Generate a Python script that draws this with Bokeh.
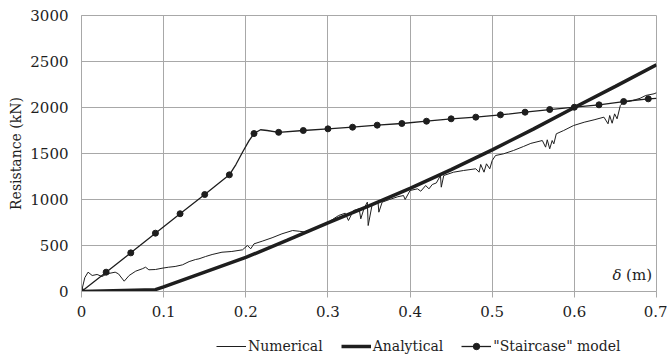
from bokeh.plotting import figure
from bokeh.layouts import column
from bokeh.models import Legend, LegendItem, FixedTicker, Label
from bokeh.embed import file_html
from bokeh.resources import INLINE

# ---- data ----
num_x = [0, 0.004, 0.008, 0.013, 0.019, 0.025, 0.031, 0.041, 0.045, 0.052, 0.058, 0.066, 0.074, 0.078,
         0.082, 0.090, 0.098, 0.106, 0.114, 0.123, 0.131, 0.139, 0.143, 0.151, 0.159, 0.171, 0.183,
         0.196, 0.202, 0.206, 0.210, 0.220, 0.232, 0.244, 0.257, 0.265, 0.271, 0.280, 0.290, 0.300,
         0.313, 0.321, 0.325, 0.331, 0.338, 0.340, 0.344, 0.348, 0.349, 0.354, 0.361, 0.362, 0.366,
         0.375, 0.385, 0.392, 0.394, 0.400, 0.409, 0.413, 0.419, 0.423, 0.427, 0.432, 0.437, 0.438,
         0.441, 0.453, 0.465, 0.480, 0.484, 0.486, 0.490, 0.493, 0.497, 0.500, 0.504, 0.514, 0.526,
         0.538, 0.547, 0.561, 0.565, 0.567, 0.570, 0.573, 0.575, 0.578, 0.587, 0.599, 0.612, 0.624,
         0.636, 0.641, 0.643, 0.646, 0.649, 0.652, 0.656, 0.660, 0.668, 0.674, 0.680, 0.687, 0.697, 0.700]
num_y = [0, 150, 210, 174, 185, 163, 192, 210, 192, 112, 174, 221, 247, 264,
         236, 239, 253, 264, 272, 290, 325, 348, 355, 380, 402, 427, 435,
         453, 500, 464, 518, 547, 584, 627, 663, 655, 648, 672, 710, 750,
         826, 851, 772, 880, 899, 790, 905, 971, 717, 953, 971, 862, 971,
         1000, 1030, 1043, 1000, 1098, 1116, 1090, 1152, 1116, 1163, 1180, 1261, 1134,
         1261, 1297, 1315, 1334, 1297, 1381, 1297, 1388, 1334, 1424, 1478, 1497, 1533,
         1576, 1610, 1641, 1569, 1649, 1551, 1641, 1605, 1714, 1750, 1804, 1840, 1866,
         1895, 1823, 1913, 1829, 1931, 1877, 2022, 2058, 2069, 2084, 2100, 2131, 2149, 2160]

ana_x = [0, 0.09, 0.10, 0.15, 0.20, 0.25, 0.30, 0.35, 0.40, 0.45, 0.50, 0.55, 0.60, 0.65, 0.70]
ana_y = [0, 20, 50, 210, 370, 555, 745, 930, 1120, 1325, 1540, 1765, 2000, 2230, 2465]

stair_x = [0, 0.03, 0.06, 0.09, 0.12, 0.15, 0.18, 0.21, 0.24, 0.27, 0.30, 0.33, 0.36, 0.39,
           0.42, 0.45, 0.48, 0.51, 0.54, 0.57, 0.60, 0.63, 0.66, 0.69]
stair_y = [0, 210, 420, 634, 845, 1054, 1268, 1717, 1730, 1750, 1768, 1786, 1808, 1826,
           1851, 1877, 1895, 1920, 1949, 1978, 2003, 2029, 2065, 2094]
# line path of the smoothed "staircase" curve (adds the read-off bend points)
stair_line_x = [0, 0.03, 0.06, 0.09, 0.12, 0.15, 0.18, 0.188, 0.196, 0.204, 0.21, 0.218, 0.226,
                0.24, 0.27, 0.30, 0.33, 0.36, 0.39, 0.42, 0.45, 0.48, 0.51, 0.54, 0.57, 0.60,
                0.63, 0.66, 0.69, 0.70]
stair_line_y = [0, 210, 420, 634, 845, 1054, 1268, 1380, 1514, 1640, 1717, 1758, 1750,
                1730, 1750, 1768, 1786, 1808, 1826, 1851, 1877, 1895, 1920, 1949, 1978, 2003,
                2029, 2065, 2094, 2100]

x_ticks = [0, 0.1, 0.2, 0.3, 0.4, 0.5, 0.6, 0.7]
x_tick_labels = ["0", "0.1", "0.2", "0.3", "0.4", "0.5", "0.6", "0.7"]
y_ticks = [0, 500, 1000, 1500, 2000, 2500, 3000]
y_tick_labels = ["0", "500", "1000", "1500", "2000", "2500", "3000"]
legend_labels = ["Numerical", "Analytical", "\"Staircase\" model"]

FONT = "DejaVu Serif"
INK = "#1e1e1e"
GRID = "#a8a8a8"


def draw_series(fig):
    a = fig.line(num_x, num_y, line_color=INK, line_width=1)
    b = fig.line(ana_x, ana_y, line_color=INK, line_width=3.5)
    c = fig.line(stair_line_x, stair_line_y, line_color=INK, line_width=1.3)
    d = fig.scatter(stair_x, stair_y, size=6, fill_color=INK, line_color=INK)
    return a, b, c, d


# ---- main chart ----
p = figure(width=667, height=330, x_range=(0, 0.7), y_range=(0, 3000),
           output_backend="svg", toolbar_location=None,
           min_border_left=81, min_border_right=11, min_border_top=15, min_border_bottom=39)
p.outline_line_color = GRID
draw_series(p)

p.xaxis.ticker = FixedTicker(ticks=x_ticks)
p.yaxis.ticker = FixedTicker(ticks=y_ticks)
p.xaxis.major_label_overrides = {t: l for t, l in zip(x_ticks, x_tick_labels)}
p.yaxis.major_label_overrides = {t: l for t, l in zip(y_ticks, y_tick_labels)}
for ax in (p.xaxis[0], p.yaxis[0]):
    ax.axis_line_color = GRID
    ax.minor_tick_line_color = None
    ax.major_label_text_font = FONT
    ax.major_label_text_font_size = "15px"
    ax.major_label_text_color = INK
p.xaxis.major_tick_line_color = GRID
p.xaxis.major_tick_out = 6
p.xaxis.major_tick_in = 0
p.xaxis.major_label_standoff = 8
p.yaxis.major_tick_line_color = None
p.yaxis.major_tick_out = 0
p.yaxis.major_tick_in = 0
p.yaxis.major_label_standoff = 13
p.yaxis.axis_label = "Resistance (kN)"
p.yaxis.axis_label_text_font = FONT
p.yaxis.axis_label_text_font_size = "14px"
p.yaxis.axis_label_text_font_style = "normal"
p.yaxis.axis_label_text_color = INK
p.yaxis.axis_label_standoff = 3

p.xgrid.grid_line_color = GRID
p.ygrid.grid_line_color = GRID
p.xgrid.grid_line_width = 1
p.ygrid.grid_line_width = 1

p.add_layout(Label(x=0.6575, y=80, text="δ", text_font=FONT, text_font_style="italic",
                   text_font_size="15px", text_color=INK, text_align="right"))
p.add_layout(Label(x=0.6945, y=80, text="(m)", text_font=FONT,
                   text_font_size="15px", text_color=INK, text_align="right"))

# ---- legend strip (same series, out of its view, so only the legend shows) ----
lg = figure(width=667, height=25, x_range=(0, 1), y_range=(-2, -1),
            x_axis_type=None, y_axis_type=None,
            output_backend="svg", toolbar_location=None,
            min_border_left=0, min_border_right=0, min_border_top=0, min_border_bottom=0)
lg.outline_line_color = None
l_num, l_ana, l_st, l_stm = draw_series(lg)

legend = Legend(items=[
    LegendItem(label=legend_labels[0], renderers=[l_num]),
    LegendItem(label=legend_labels[1], renderers=[l_ana]),
    LegendItem(label=legend_labels[2], renderers=[l_st, l_stm]),
], orientation="horizontal", location=(135, 1))
legend.label_text_font = FONT
legend.label_text_font_size = "14px"
legend.label_text_color = INK
legend.glyph_width = 30
legend.glyph_height = 16
legend.label_height = 16
legend.label_standoff = 2
legend.spacing = 18
legend.padding = 0
legend.margin = 0
legend.border_line_alpha = 0
legend.background_fill_alpha = 0
lg.add_layout(legend, "center")

layout = column(p, lg, spacing=0)
open("out.html", "w").write(file_html(layout, INLINE))
